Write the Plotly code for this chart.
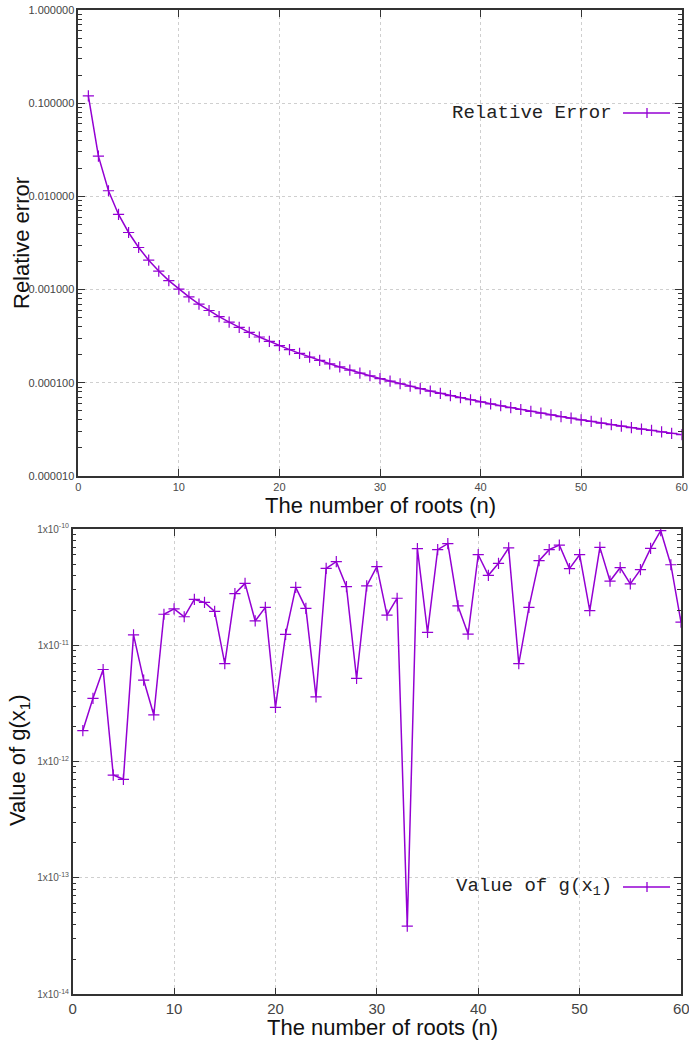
import plotly.graph_objects as go

# ---------------- data ----------------
n_roots = list(range(1, 61))

relative_error = [
    0.1200, 0.0270, 0.0115, 0.00640, 0.00410, 0.00283, 0.00207, 0.00158, 0.00125, 0.00101,
    0.000835, 0.000700, 0.000597, 0.000514, 0.000448, 0.000393, 0.000348, 0.000310, 0.000278, 0.000251,
    0.000227, 0.000207, 0.000189, 0.000174, 0.000160, 0.000148, 0.000137, 0.000127, 0.000119, 0.000111,
    0.000104, 0.0000977, 0.0000918, 0.0000865, 0.0000816, 0.0000771, 0.0000730, 0.0000693, 0.0000658, 0.0000625,
    0.0000595, 0.0000567, 0.0000541, 0.0000517, 0.0000494, 0.0000473, 0.0000453, 0.0000434, 0.0000417, 0.0000400,
    0.0000385, 0.0000370, 0.0000356, 0.0000343, 0.0000331, 0.0000319, 0.0000308, 0.0000297, 0.0000287, 0.0000278,
]

g_x1 = [
    1.85e-12, 3.50e-12, 6.20e-12, 7.67e-13, 7.05e-13, 1.23e-11, 5.03e-12, 2.52e-12, 1.85e-11, 2.06e-11,
    1.76e-11, 2.48e-11, 2.34e-11, 1.96e-11, 6.95e-12, 2.78e-11, 3.41e-11, 1.62e-11, 2.12e-11, 2.93e-12,
    1.24e-11, 3.15e-11, 2.08e-11, 3.61e-12, 4.59e-11, 5.24e-11, 3.19e-11, 5.20e-12, 3.24e-11, 4.74e-11,
    1.82e-11, 2.54e-11, 3.86e-14, 6.77e-11, 1.29e-11, 6.64e-11, 7.48e-11, 2.18e-11, 1.25e-11, 6.01e-11,
    4.00e-11, 5.07e-11, 6.87e-11, 6.95e-12, 2.12e-11, 5.34e-11, 6.64e-11, 7.28e-11, 4.56e-11, 6.01e-11,
    1.99e-11, 6.95e-11, 3.57e-11, 4.65e-11, 3.37e-11, 4.47e-11, 6.82e-11, 9.67e-11, 4.93e-11, 1.58e-11,
]

x_ticks = [0, 10, 20, 30, 40, 50, 60]
top_y_tickvals = [1e-5, 1e-4, 1e-3, 1e-2, 1e-1, 1.0]
top_y_ticktext = ["0.000010", "0.000100", "0.001000", "0.010000", "0.100000", "1.000000"]
bot_y_tickvals = [1e-14, 1e-13, 1e-12, 1e-11, 1e-10]
bot_y_ticktext = ["1x10<sup>-14</sup>", "1x10<sup>-13</sup>", "1x10<sup>-12</sup>",
                  "1x10<sup>-11</sup>", "1x10<sup>-10</sup>"]

# ---------------- styling ----------------
W, H = 689, 1041
PURPLE = "#9400d3"
AXIS_COL = "#333333"
GRID_COL = "#cfcfcf"


def px_x(p):
    return p / W


def px_y(p):
    return 1 - p / H


def minor_vals(lo_exp, hi_exp):
    return [m * 10 ** e for e in range(lo_exp, hi_exp) for m in range(2, 10)]


fig = go.Figure()

fig.add_trace(go.Scatter(
    x=n_roots, y=relative_error, mode="lines+markers", name="Relative Error",
    line=dict(color=PURPLE, width=1.5),
    marker=dict(symbol="cross-thin", size=8, line=dict(color=PURPLE, width=1.2)),
    xaxis="x", yaxis="y", showlegend=False,
))
fig.add_trace(go.Scatter(
    x=n_roots, y=g_x1, mode="lines+markers", name="Value of g(x1)",
    line=dict(color=PURPLE, width=1.5),
    marker=dict(symbol="cross-thin", size=8, line=dict(color=PURPLE, width=1.2)),
    xaxis="x2", yaxis="y2", showlegend=False,
))

common_axis = dict(
    showline=True, linecolor=AXIS_COL, linewidth=1.5, mirror="allticks",
    ticks="inside", ticklen=7, tickcolor=AXIS_COL, tickwidth=1.2,
    showgrid=True, gridcolor=GRID_COL, griddash="dot", gridwidth=1,
    zeroline=False, automargin=False,
)

top_dom_x = [px_x(78.3), px_x(681.7)]
top_dom_y = [px_y(476), px_y(10)]
bot_dom_x = [px_x(72.7), px_x(681)]
bot_dom_y = [px_y(994.3), px_y(529)]

fig.update_layout(
    width=W, height=H,
    margin=dict(l=0, r=0, t=0, b=0, autoexpand=False),
    paper_bgcolor="white", plot_bgcolor="white",
    showlegend=False,
    xaxis=dict(common_axis, domain=top_dom_x, anchor="y", range=[0, 60],
               tickmode="array", tickvals=x_ticks,
               tickfont=dict(family="Liberation Sans", size=11, color="#4a4a4a")),
    yaxis=dict(common_axis, domain=top_dom_y, anchor="x", type="log", range=[-5, 0],
               tickmode="array", tickvals=top_y_tickvals, ticktext=top_y_ticktext,
               tickfont=dict(family="Liberation Sans", size=11, color="#444444"),
               minor=dict(tickmode="array", tickvals=minor_vals(-5, 0), ticks="inside",
                          ticklen=4, tickcolor=AXIS_COL, showgrid=False)),
    xaxis2=dict(common_axis, domain=bot_dom_x, anchor="y2", range=[0, 60],
                tickmode="array", tickvals=x_ticks,
                tickfont=dict(family="Liberation Sans", size=15, color="#444444")),
    yaxis2=dict(common_axis, domain=bot_dom_y, anchor="x2", type="log", range=[-14, -10],
                tickmode="array", tickvals=bot_y_tickvals, ticktext=bot_y_ticktext,
                tickfont=dict(family="Liberation Sans", size=10, color="#555555"),
                minor=dict(tickmode="array", tickvals=minor_vals(-14, -10), ticks="inside",
                           ticklen=4, tickcolor=AXIS_COL, showgrid=False)),
)

title_font = dict(family="Liberation Sans", size=22, color="#111111")
legend_font = dict(family="Liberation Mono", size=19, color="#222222")

annotations = [
    dict(text="Relative error", x=px_x(21), y=px_y(243), xref="paper", yref="paper",
         textangle=-90, showarrow=False, font=title_font, xanchor="center", yanchor="middle"),
    dict(text="The number of roots (n)", x=px_x(380), y=px_y(506), xref="paper", yref="paper",
         showarrow=False, font=title_font, xanchor="center", yanchor="middle"),
    dict(text="Value of g(x<sub>1</sub>)", x=px_x(19), y=px_y(760), xref="paper", yref="paper",
         textangle=-90, showarrow=False, font=title_font, xanchor="center", yanchor="middle"),
    dict(text="The number of roots (n)", x=px_x(382), y=px_y(1027), xref="paper", yref="paper",
         showarrow=False, font=title_font, xanchor="center", yanchor="middle"),
    dict(text="Relative Error", x=px_x(614), y=px_y(113), xref="paper", yref="paper",
         showarrow=False, font=legend_font, xanchor="right", yanchor="middle"),
    dict(text="Value of g(x<sub>1</sub>)", x=px_x(614), y=px_y(887), xref="paper", yref="paper",
         showarrow=False, font=legend_font, xanchor="right", yanchor="middle"),
    # last tick label of the lower x axis, partly cut by the page edge as in the original
    dict(text="60", x=60, y=px_y(1008), xref="x2", yref="paper",
         showarrow=False, font=dict(family="Liberation Sans", size=15, color="#444444"),
         xanchor="center", yanchor="middle"),
]
fig.update_layout(annotations=annotations)

# legend samples (line with a cross in the middle)
shapes = []
for yc in (113, 887):
    shapes.append(dict(type="line", xref="paper", yref="paper",
                       x0=px_x(623), x1=px_x(670), y0=px_y(yc), y1=px_y(yc),
                       line=dict(color=PURPLE, width=1.5)))
    shapes.append(dict(type="line", xref="paper", yref="paper",
                       x0=px_x(647), x1=px_x(647), y0=px_y(yc - 5), y1=px_y(yc + 5),
                       line=dict(color=PURPLE, width=1.3)))
fig.update_layout(shapes=shapes)

fig.write_html("out.html")
